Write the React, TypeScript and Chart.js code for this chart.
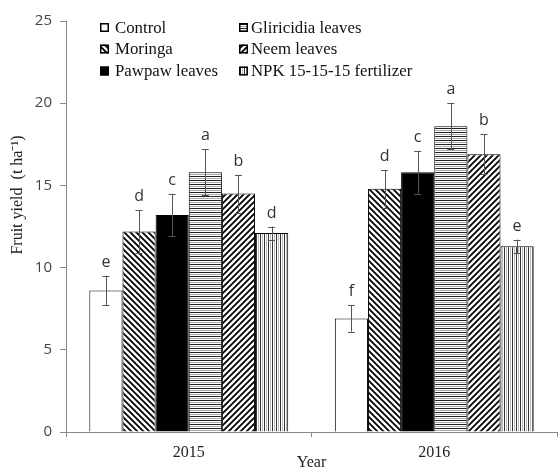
import React, { useEffect, useRef } from 'react';
import { Chart, registerables } from 'chart.js';
Chart.register(...registerables);

const years = ['2015', '2016'];
const treatments = ['Control', 'Moringa', 'Pawpaw leaves', 'Gliricidia leaves', 'Neem leaves', 'NPK 15-15-15 fertilizer'];
const control = [8.6, 6.9];
const moringa = [12.2, 14.8];
const pawpaw = [13.2, 15.8];
const gliricidia = [15.8, 18.6];
const neem = [14.5, 16.9];
const npk = [12.1, 11.3];
const controlErr = [0.9, 0.8];
const moringaErr = [1.3, 1.15];
const pawpawErr = [1.3, 1.3];
const gliricidiaErr = [1.4, 1.4];
const neemErr = [1.15, 1.2];
const npkErr = [0.4, 0.4];
const controlLetters = ['e', 'f'];
const moringaLetters = ['d', 'd'];
const pawpawLetters = ['c', 'c'];
const gliricidiaLetters = ['a', 'a'];
const neemLetters = ['b', 'b'];
const npkLetters = ['d', 'e'];
const yMin = 0;
const yMax = 25;
const yStep = 5;

const seriesValues = [control, moringa, pawpaw, gliricidia, neem, npk];
const seriesErrors = [controlErr, moringaErr, pawpawErr, gliricidiaErr, neemErr, npkErr];
const seriesLetters = [controlLetters, moringaLetters, pawpawLetters, gliricidiaLetters, neemLetters, npkLetters];
const patternKinds = ['white', 'back', 'black', 'horiz', 'fwd', 'vert'];
// legend order: [column, row] for each treatment
const legendSlots = [[0, 0], [0, 1], [0, 2], [1, 0], [1, 1], [1, 2]];

function makePattern(kind: string): any {
  if (kind === 'white') return '#ffffff';
  if (kind === 'black') return '#000000';
  const c = document.createElement('canvas');
  const ctx = c.getContext('2d')!;
  if (kind === 'back' || kind === 'fwd') {
    const s = 6;
    c.width = s; c.height = s;
    ctx.fillStyle = '#fff';
    ctx.fillRect(0, 0, s, s);
    ctx.strokeStyle = '#000';
    ctx.lineWidth = 1.8;
    ctx.beginPath();
    if (kind === 'back') {
      ctx.moveTo(-s, -s); ctx.lineTo(2 * s, 2 * s);
      ctx.moveTo(-s, 0); ctx.lineTo(s, 2 * s);
      ctx.moveTo(0, -s); ctx.lineTo(2 * s, s);
    } else {
      ctx.moveTo(-s, 2 * s); ctx.lineTo(2 * s, -s);
      ctx.moveTo(-s, s); ctx.lineTo(s, -s);
      ctx.moveTo(0, 2 * s); ctx.lineTo(2 * s, 0);
    }
    ctx.stroke();
  } else if (kind === 'horiz') {
    c.width = 4; c.height = 4;
    ctx.fillStyle = '#fff';
    ctx.fillRect(0, 0, 4, 4);
    ctx.fillStyle = '#222';
    ctx.fillRect(0, 0, 4, 1);
    ctx.fillStyle = '#aaa';
    ctx.fillRect(0, 2, 4, 1);
  } else if (kind === 'vert') {
    c.width = 4; c.height = 4;
    ctx.fillStyle = '#fff';
    ctx.fillRect(0, 0, 4, 4);
    ctx.fillStyle = '#333';
    ctx.fillRect(0, 0, 1, 4);
    ctx.fillStyle = '#bbb';
    ctx.fillRect(2, 0, 1, 4);
  }
  return ctx.createPattern(c, 'repeat');
}

const overlayPlugin = {
  id: 'overlay',
  afterDatasetsDraw(chart: any) {
    const ctx = chart.ctx;
    const yScale = chart.scales.y;
    ctx.save();
    chart.data.datasets.forEach((ds: any, i: number) => {
      const meta = chart.getDatasetMeta(i);
      meta.data.forEach((el: any, j: number) => {
        const v = seriesValues[i][j];
        const e = seriesErrors[i][j];
        const x = el.x;
        const yt = yScale.getPixelForValue(v + e);
        const yb = yScale.getPixelForValue(v - e);
        ctx.strokeStyle = '#555';
        ctx.lineWidth = 1;
        ctx.beginPath();
        ctx.moveTo(Math.round(x) + 0.5, yt);
        ctx.lineTo(Math.round(x) + 0.5, yb);
        ctx.moveTo(x - 3.5, Math.round(yt) + 0.5);
        ctx.lineTo(x + 3.5, Math.round(yt) + 0.5);
        ctx.moveTo(x - 3.5, Math.round(yb) + 0.5);
        ctx.lineTo(x + 3.5, Math.round(yb) + 0.5);
        ctx.stroke();
        ctx.fillStyle = '#333';
        ctx.font = '16px "Open Sans", sans-serif';
        ctx.textAlign = 'center';
        ctx.textBaseline = 'alphabetic';
        ctx.fillText(seriesLetters[i][j], x, yt - 9);
      });
    });
    ctx.restore();
  },
  afterDraw(chart: any) {
    const ctx = chart.ctx;
    ctx.save();
    // legend
    const colText = [115, 251];
    const colBox = [100, 239];
    const rowY = [27.5, 49, 71];
    ctx.font = '16.8px "Liberation Serif", "Times New Roman", serif';
    ctx.textBaseline = 'middle';
    ctx.textAlign = 'left';
    chart.data.datasets.forEach((ds: any, i: number) => {
      const [c, r] = legendSlots[i];
      const y = rowY[r];
      ctx.fillStyle = ds.backgroundColor;
      ctx.fillRect(colBox[c], y - 4.5, 9, 9);
      ctx.strokeStyle = '#000';
      ctx.lineWidth = 1.5;
      ctx.strokeRect(colBox[c] + 0.75, y - 3.75, 7.5, 7.5);
      ctx.fillStyle = '#111';
      ctx.fillText(ds.label, colText[c], y + 1);
    });
    // axis titles
    const area = chart.chartArea;
    ctx.fillStyle = '#222';
    ctx.textAlign = 'center';
    ctx.textBaseline = 'middle';
    ctx.font = '16px "Liberation Serif", "Times New Roman", serif';
    ctx.fillText('Year', (area.left + area.right) / 2, 463);
    ctx.translate(18, 195);
    ctx.rotate(-Math.PI / 2);
    ctx.font = '16px "Liberation Serif", "Times New Roman", serif';
    ctx.fillText('Fruit yield  (t ha\u207B\u00B9)', 0, 0);
    ctx.restore();
  },
};

export default function App() {
  const ref = useRef<HTMLCanvasElement>(null);
  useEffect(() => {
    const datasets = treatments.map((t, i) => ({
      label: t,
      data: seriesValues[i],
      backgroundColor: makePattern(patternKinds[i]),
      borderColor: '#000',
      borderWidth: 1,
      categoryPercentage: 0.81,
      barPercentage: 1.0,
    }));
    const chart = new Chart(ref.current!, {
      type: 'bar',
      data: { labels: years, datasets },
      plugins: [overlayPlugin],
      options: {
        animation: false,
        responsive: false,
        devicePixelRatio: 1,
        layout: { padding: { left: 0, top: 21, right: 2, bottom: 0 } },
        plugins: { legend: { display: false }, tooltip: { enabled: false } },
        scales: {
          x: {
            afterFit: (s: any) => { s.height = 38; },
            grid: { offset: true, drawOnChartArea: false, tickLength: 5, color: '#888' },
            border: { color: '#888' },
            ticks: { color: '#222', padding: 6, font: { family: '"Liberation Serif", "Times New Roman", serif', size: 16 } },
          },
          y: {
            min: yMin,
            max: yMax,
            afterFit: (s: any) => { s.width = 66; },
            grid: { drawOnChartArea: false, tickLength: 6, color: '#888' },
            border: { color: '#888' },
            ticks: { stepSize: yStep, color: '#444', padding: 8, font: { family: '"Open Sans", sans-serif', size: 15 } },
          },
        },
      },
    } as any);
    return () => chart.destroy();
  }, []);
  return (
    <div style={{ position: 'absolute', left: 0, top: 0, width: 559, height: 470, background: '#fff' }}>
      <canvas ref={ref} width={559} height={470} />
    </div>
  );
}
